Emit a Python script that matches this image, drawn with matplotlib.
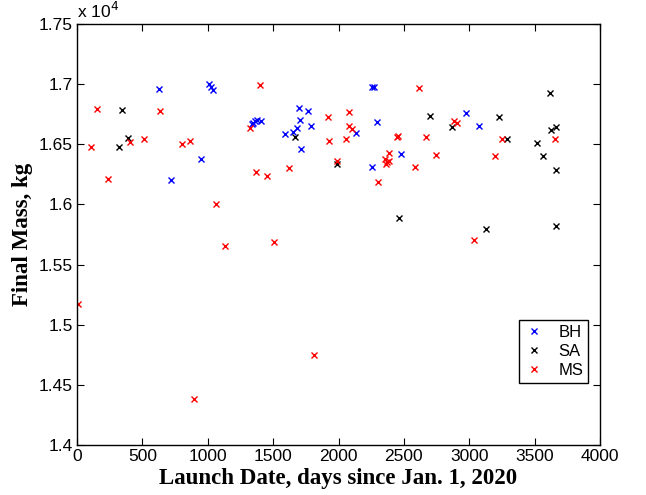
import matplotlib
matplotlib.use("Agg")
import matplotlib.pyplot as plt
from matplotlib.ticker import FuncFormatter, MultipleLocator

# ---- data (launch day, final mass kg) ----
bh_days = [627, 717, 948, 1010, 1025, 1037, 1336, 1344, 1359, 1379, 1405,
           1593, 1654, 1683, 1698, 1703, 1713, 1767, 1790, 2136, 2254,
           2254, 2269, 2294, 2476, 2973, 3075]
bh_mass = [16962, 16200, 16375, 17000, 16975, 16955, 16669, 16680, 16696, 16700, 16696,
           16583, 16605, 16633, 16805, 16699, 16461, 16777, 16655, 16597, 16309,
           16979, 16979, 16688, 16422, 16760, 16650]

sa_days = [324, 347, 393, 1665, 1986, 2463, 2697, 2868, 3128, 3227, 3291,
           3518, 3562, 3615, 3627, 3661, 3661, 3661]
sa_mass = [16474, 16785, 16552, 16558, 16338, 15885, 16738, 16647, 15796, 16724, 16546,
           16511, 16400, 16929, 16616, 16641, 16289, 15823]

ms_days = [5, 105, 155, 235, 408, 510, 635, 800, 862, 897, 1061, 1132, 1325,
           1367, 1400, 1451, 1504, 1624, 1810, 1917, 1930, 1988, 2055, 2080,
           2080, 2106, 2302, 2356, 2361, 2373, 2389, 2386, 2445, 2457, 2587,
           2613, 2667, 2748, 2883, 2909, 3036, 3197, 3250, 3656]
ms_mass = [15172, 16480, 16791, 16211, 16522, 16546, 16779, 16505, 16530, 14382, 16001, 15657, 16638,
           16267, 16996, 16239, 15690, 16300, 14751, 16724, 16530, 16358, 16541, 16766,
           16655, 16627, 16186, 16375, 16334, 16355, 16363, 16425, 16563, 16569, 16314,
           16971, 16563, 16414, 16696, 16679, 15704, 16400, 16546, 16541]

series_names = ["BH", "SA", "MS"]
xticks = [0, 500, 1000, 1500, 2000, 2500, 3000, 3500, 4000]

fig = plt.figure(figsize=(6.46, 4.95), dpi=100)
ax = fig.add_axes([77/646, 1-445/495, (600-77)/646, (445-24)/495])

mk = dict(marker='x', linestyle='none', markersize=5, markeredgewidth=1.0)
ax.plot(bh_days, bh_mass, color='#0000ff', label=series_names[0], **mk)
ax.plot(sa_days, sa_mass, color='black', label=series_names[1], **mk)
ax.plot(ms_days, ms_mass, color='#ff0000', label=series_names[2], **mk)

ax.set_xlim(0, 4000)
ax.set_ylim(14000, 17500)
ax.set_xticks(xticks)
ax.yaxis.set_major_locator(MultipleLocator(500))
ax.yaxis.set_major_formatter(FuncFormatter(lambda v, p: "%g" % round(v/1e4, 3)))

tickfont = 'Liberation Sans'
for lab in ax.get_xticklabels() + ax.get_yticklabels():
    lab.set_fontfamily(tickfont)
    lab.set_fontsize(12.5)
ax.tick_params(direction='in', top=True, right=True, length=5, width=0.8, pad=3)
for s in ax.spines.values():
    s.set_linewidth(1.0)

ax.set_xlabel("Launch Date, days since Jan. 1, 2020", fontfamily='Liberation Serif',
              fontweight='bold', fontsize=16.5, labelpad=3)
ax.set_ylabel("Final Mass, kg", fontfamily='Liberation Serif',
              fontweight='bold', fontsize=16.5, labelpad=4)

fig.text(77/646, 1-18/495, r"x 10$^{4}$", fontfamily=tickfont, fontsize=12.5,
         ha='left', va='baseline')

leg = ax.legend(loc='lower right', bbox_to_anchor=(0.978, 0.147), borderaxespad=0,
                fancybox=False, framealpha=1, edgecolor='black',
                prop={'family': tickfont, 'size': 12}, handlelength=1.2,
                handletextpad=0.9, borderpad=0.3, labelspacing=0.25, numpoints=1)
leg.get_frame().set_linewidth(1.0)

fig.savefig("out.png", dpi=100)
